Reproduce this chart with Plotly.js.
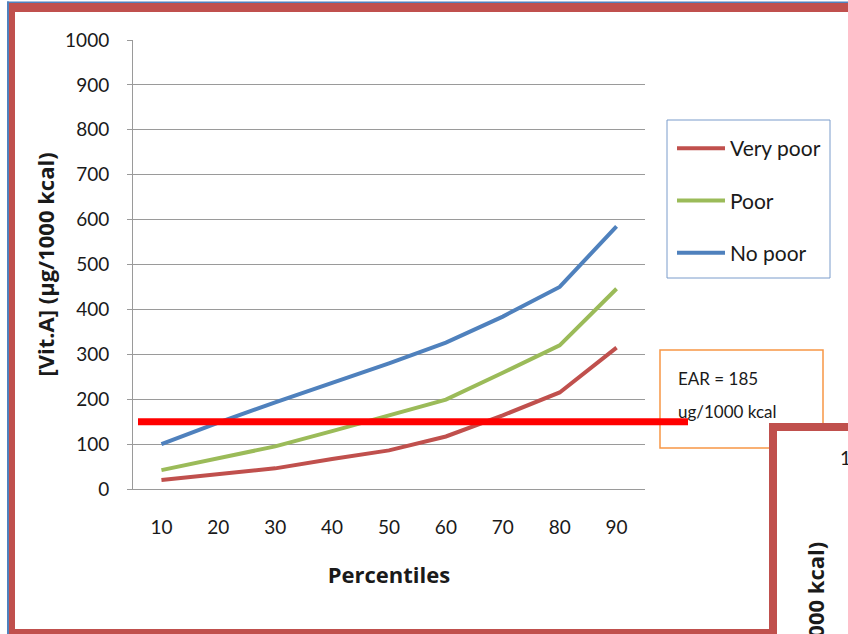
<!DOCTYPE html>
<html>
<head>
<meta charset="utf-8">
<script src="https://cdn.plot.ly/plotly-3.0.1.min.js"></script>
<style>
html,body{margin:0;padding:0;background:#fff;}
#chart{width:848px;height:634px;}
</style>
</head>
<body>
<div id="chart"></div>
<script>
// ---- data ----
const categories = ['10','20','30','40','50','60','70','80','90'];
const veryPoor = [20, 32, 46, 67, 86, 117, 164, 215, 315];
const poor     = [42, 69, 95, 129, 163, 199, 259, 320, 446];
const noPoor   = [100, 148, 193, 236, 280, 326, 384, 450, 585];
const seriesNames = ['Very poor', 'Poor', 'No poor'];
const earValue = 150;
const earLabel1 = 'EAR = 185';
const earLabel2 = 'ug/1000 kcal';
const xTitle = 'Percentiles';
const yTitle = '[Vit.A] (µg/1000 kcal)';

// ---- layout helpers (pixel -> paper) ----
const W = 848, H = 634;
const L = 133, R = 645, T = 40, B = 489;
const px = x => (x - L) / (R - L);
const py = y => (B - y) / (B - T);

const FONT = 'Lato, "Open Sans", sans-serif';
const BOLD = '"Open Sans", "Noto Sans", sans-serif';
const frameRed = '#C0504D';
const frameBlue = '#4F81BD';

const traces = [
  {x: categories, y: veryPoor, name: seriesNames[0], mode: 'lines', legendgroup: 'a',
   line: {color: '#C0504D', width: 4}},
  {x: categories, y: poor, name: seriesNames[1], mode: 'lines', legendgroup: 'b',
   line: {color: '#9BBB59', width: 4}},
  {x: categories, y: noPoor, name: seriesNames[2], mode: 'lines', legendgroup: 'c',
   line: {color: '#4F81BD', width: 4}}
];

function rect(x0, y0, x1, y1, fill, lineColor, lw) {
  return {type: 'rect', xref: 'paper', yref: 'paper', layer: 'above',
    x0: px(x0), x1: px(x1), y0: py(y0), y1: py(y1),
    fillcolor: fill || 'rgba(0,0,0,0)',
    line: {color: lineColor || 'rgba(0,0,0,0)', width: lw || 0}};
}

const shapes = [
  // legend frame
  rect(667, 120, 830, 278, null, '#7A9CCB', 1),
  // orange EAR label box
  rect(660, 350, 823, 448, null, '#F79646', 1.5),
  // EAR red line
  {type: 'line', xref: 'paper', yref: 'y', layer: 'above',
   x0: px(138), x1: px(688), y0: earValue, y1: earValue,
   line: {color: '#FF0000', width: 7}},
  // outer slide frame
  rect(7, 1.5, 848, 3.5, frameBlue),
  rect(7, 1.5, 9, 634, frameBlue),
  rect(9, 3, 848, 12, frameRed),
  rect(9, 3, 15, 634, frameRed),
  rect(9, 629, 769, 634, frameRed),
  // second (overlapping) chart frame
  rect(769, 423, 848, 634, frameRed),
  rect(777, 431, 848, 634, '#FFFFFF')
];

const annotations = [
  {xref: 'paper', yref: 'paper', x: px(676), y: py(378), xanchor: 'left', yanchor: 'middle',
   text: earLabel1, showarrow: false, font: {family: FONT, size: 17, color: '#1a1a1a'}},
  {xref: 'paper', yref: 'paper', x: px(676), y: py(411), xanchor: 'left', yanchor: 'middle',
   text: earLabel2, showarrow: false, font: {family: FONT, size: 17, color: '#1a1a1a'}},
  // fragment of the overlapping second chart
  {xref: 'paper', yref: 'paper', x: px(838), y: py(457), xanchor: 'left', yanchor: 'middle',
   text: '1000', showarrow: false, font: {family: FONT, size: 19, color: '#1a1a1a'}},
  {xref: 'paper', yref: 'paper', x: px(815), y: py(540), xanchor: 'center', yanchor: 'top',
   text: '<b>' + yTitle + '</b>', textangle: -90, showarrow: false,
   font: {family: BOLD, size: 22, color: '#1a1a1a'}}
];

const layout = {
  width: W, height: H,
  margin: {l: L, r: W - R, t: T, b: H - B, pad: 0},
  paper_bgcolor: '#fff', plot_bgcolor: '#fff',
  showlegend: true,
  legend: {
    x: px(672), y: py(128), xanchor: 'left', yanchor: 'top',
    borderwidth: 0, bgcolor: 'rgba(0,0,0,0)',
    font: {family: FONT, size: 21, color: '#1a1a1a'},
    itemwidth: 48,
    traceorder: 'grouped', tracegroupgap: 22,
  },
  xaxis: {
    type: 'category', range: [-0.5, 8.5],
    showgrid: false, zeroline: false,
    showline: true, linecolor: '#9A9A9A', linewidth: 1,
    ticks: '', ticklabelstandoff: 21,
    tickfont: {family: FONT, size: 19, color: '#1a1a1a'},
    title: {text: '<b>' + xTitle + '</b>', standoff: 30,
            font: {family: BOLD, size: 22, color: '#1a1a1a'}},
    fixedrange: true
  },
  yaxis: {
    range: [0, 1000], dtick: 100, tick0: 0,
    showgrid: true, gridcolor: '#9A9A9A', gridwidth: 1,
    zeroline: false,
    showline: true, linecolor: '#9A9A9A', linewidth: 1,
    ticks: 'outside', ticklen: 5, tickcolor: '#9A9A9A',
    ticklabelstandoff: 14,
    tickfont: {family: FONT, size: 19, color: '#1a1a1a'},
    title: {text: '<b>' + yTitle + '</b>', standoff: 4,
            font: {family: BOLD, size: 22, color: '#1a1a1a'}},
    fixedrange: true
  },
  shapes: shapes,
  annotations: annotations
};

Plotly.newPlot('chart', traces, layout, {displayModeBar: false, staticPlot: true});
</script>
</body>
</html>
